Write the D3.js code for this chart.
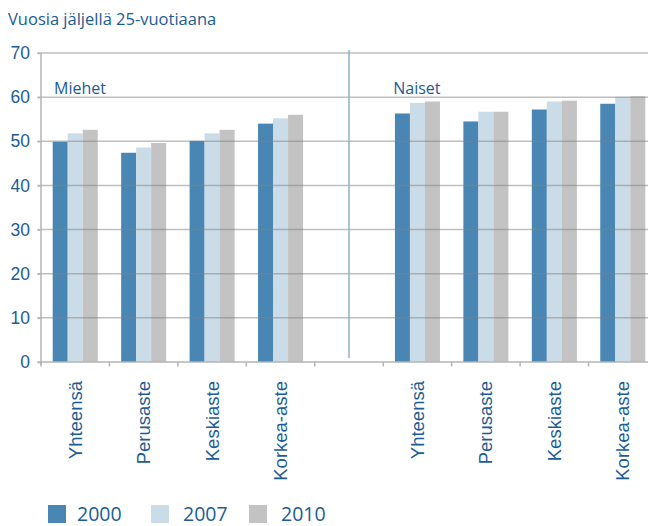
<!DOCTYPE html>
<html>
<head>
<meta charset="utf-8">
<script src="https://cdn.jsdelivr.net/npm/d3@7"></script>
<style>
  body { margin: 0; background: #fff; }
  svg { display: block; font-family: "Open Sans", "Noto Sans", sans-serif; }
  text { fill: #1b5b97; }
</style>
</head>
<body>
<svg id="chart" width="648" height="526"></svg>
<script>
// data
var years = ['2000', '2007', '2010'];
var levels = ['Yhteensä', 'Perusaste', 'Keskiaste', 'Korkea-aste'];
var groups = ['Miehet', 'Naiset'];
var men2000 = [49.9, 47.4, 50.1, 54.0];
var men2007 = [51.8, 48.6, 51.8, 55.2];
var men2010 = [52.6, 49.6, 52.6, 56.0];
var women2000 = [56.3, 54.5, 57.2, 58.5];
var women2007 = [58.7, 56.7, 59.0, 60.1];
var women2010 = [59.0, 56.7, 59.2, 60.2];
var yTicks = [0, 10, 20, 30, 40, 50, 60, 70];
var title = 'Vuosia jäljellä 25-vuotiaana';
var colors = ['#4a86b3', '#c9dce8', '#c3c3c3'];

var svg = d3.select('#chart');
var margin = {left: 41, top: 53, bottom: 362};
var plotRight = 657;

// band keys: men levels, an empty gap, women levels
var keys = levels.map(function(l) { return 'M|' + l; })
    .concat(['gap'])
    .concat(levels.map(function(l) { return 'N|' + l; }));

var rows = [];
levels.forEach(function(l, i) {
    rows.push({key: 'M|' + l, vals: [men2000[i], men2007[i], men2010[i]]});
    rows.push({key: 'N|' + l, vals: [women2000[i], women2007[i], women2010[i]]});
});

var x0 = d3.scaleBand().domain(keys).range([margin.left, plotRight]);
var x1 = d3.scaleBand().domain(years).range([0, x0.bandwidth()]).paddingOuter(0.78);
var y = d3.scaleLinear().domain([0, 70]).range([margin.bottom, margin.top]);

svg.append('text')
    .attr('x', 8).attr('y', 25)
    .style('font-size', '16.5px')
    .text(title);

// bars
svg.append('g').selectAll('g')
    .data(rows)
    .join('g')
    .attr('transform', function(d) { return 'translate(' + x0(d.key) + ',0)'; })
    .selectAll('rect')
    .data(function(d) { return d.vals.map(function(v, i) { return {year: years[i], v: v}; }); })
    .join('rect')
    .attr('x', function(d) { return x1(d.year); })
    .attr('width', x1.bandwidth())
    .attr('y', function(d) { return y(d.v); })
    .attr('height', function(d) { return y(0) - y(d.v); })
    .attr('fill', function(d, i) { return colors[i]; });

// gridlines on top of bars, semi transparent like the original
svg.append('g').selectAll('line')
    .data(yTicks.filter(function(t) { return t > 0; }))
    .join('line')
    .attr('x1', 37.5).attr('x2', 648)
    .attr('y1', function(d) { return y(d); })
    .attr('y2', function(d) { return y(d); })
    .attr('stroke', '#808080')
    .attr('stroke-opacity', 0.5)
    .attr('stroke-width', 1.5);

// y axis
var yAxis = svg.append('g')
    .attr('transform', 'translate(' + margin.left + ',0)')
    .call(d3.axisLeft(y).tickValues(yTicks).tickSize(3.5).tickPadding(7.5));
yAxis.select('.domain').attr('stroke', '#b5b5b5').attr('stroke-width', 1.5)
    .attr('d', 'M0,' + (margin.top) + 'V' + (margin.bottom + 3));
yAxis.selectAll('.tick line').attr('stroke', '#b5b5b5').attr('stroke-width', 1.5);
yAxis.selectAll('.tick text').style('font-size', '17.5px').attr('fill', '#1b5b97');

// x axis
var xAxis = svg.append('g')
    .attr('transform', 'translate(0,' + margin.bottom + ')')
    .call(d3.axisBottom(x0).tickSize(0).tickFormat(function(d) {
        return d === 'gap' ? '' : d.split('|')[1];
    }));
xAxis.select('.domain').attr('stroke', '#b5b5b5').attr('stroke-width', 1.5)
    .attr('d', 'M37.5,0H648');
xAxis.selectAll('.tick text')
    .attr('transform', 'rotate(-90)')
    .attr('x', -19).attr('y', 0).attr('dy', '0.35em')
    .attr('text-anchor', 'end')
    .attr('fill', '#1b5b97')
    .style('font-size', '18.5px');
// ticks on the band boundaries
xAxis.append('g').selectAll('line')
    .data(keys)
    .join('line')
    .attr('x1', function(d) { return x0(d); })
    .attr('x2', function(d) { return x0(d); })
    .attr('y1', 0).attr('y2', 4.5)
    .attr('stroke', '#b5b5b5').attr('stroke-width', 1.5);

// divider between men and women
svg.append('line')
    .attr('x1', x0('gap') + x0.bandwidth() / 2)
    .attr('x2', x0('gap') + x0.bandwidth() / 2)
    .attr('y1', 50).attr('y2', 358)
    .attr('stroke', '#8cb2d2').attr('stroke-width', 1.5);

// group labels
svg.selectAll('.grp')
    .data(groups)
    .join('text')
    .attr('class', 'grp')
    .attr('x', function(d, i) { return x0(i === 0 ? 'M|Yhteensä' : 'N|Yhteensä') - (i === 0 ? -13 : -10); })
    .attr('y', 94)
    .style('font-size', '16px')
    .text(function(d) { return d; });

// legend
var legendX = [48, 151, 249];
var leg = svg.append('g').selectAll('g')
    .data(years)
    .join('g')
    .attr('transform', function(d, i) { return 'translate(' + legendX[i] + ',505)'; });
leg.append('rect')
    .attr('width', 18).attr('height', 18)
    .attr('fill', function(d, i) { return colors[i]; });
leg.append('text')
    .attr('x', function(d, i) { return i === 0 ? 29 : 32; })
    .attr('y', 15.5)
    .style('font-size', '19.5px')
    .text(function(d) { return d; });
</script>
</body>
</html>
